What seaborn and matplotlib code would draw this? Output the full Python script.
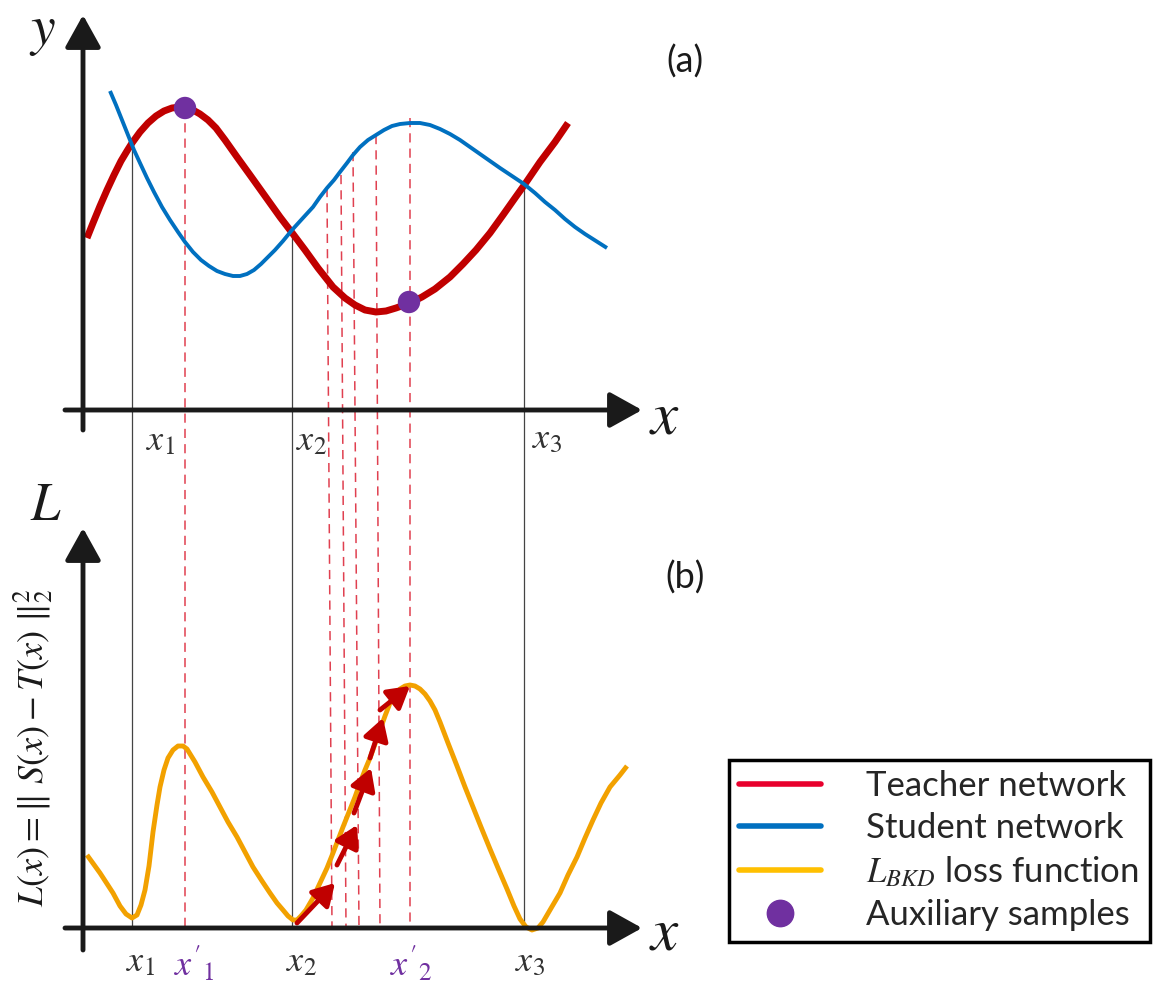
import matplotlib.pyplot as plt
from matplotlib.lines import Line2D
import seaborn as sns

# Schematic curves, points (pixel grid, y grows downwards)
teacher_x = [87, 93, 100, 107, 114, 121, 127, 132, 140, 148, 156, 164, 172, 180, 186, 193, 200, 208,
             216, 225, 237, 250, 265, 280, 293, 305, 318, 333, 345, 355, 365, 376, 386, 396, 410, 422,
             435, 450, 463, 476, 490, 503, 515, 525, 540, 555, 568]
teacher_y = [238, 223, 206, 190, 175, 161, 151, 143, 132, 123, 116, 111, 108, 107, 108, 110, 114, 120,
             128, 140, 157, 175, 196, 217, 234, 250, 268, 287, 298, 305, 310, 312, 311, 308, 303, 297,
             289, 277, 264, 250, 233, 215, 198, 184, 162, 142, 123]

student_x = [110, 116, 122, 128, 134, 140, 147, 154, 162, 170, 178, 185, 193, 201, 209, 217, 225, 233,
             240, 247, 254, 261, 268, 275, 283, 292, 302, 313, 320, 327, 334, 340, 347, 353, 360, 368,
             376, 384, 392, 400, 410, 420, 430, 440, 450, 460, 470, 480, 490, 500, 512, 524, 535, 545,
             555, 565, 575, 585, 596, 607]
student_y = [91, 105, 120, 135, 150, 163, 178, 192, 207, 220, 232, 242, 252, 260, 266, 271, 274, 276,
             276, 274, 270, 264, 257, 250, 241, 230, 219, 207, 197, 188, 180, 172, 163, 155, 147, 140,
             135, 130, 126, 124, 123, 123, 125, 129, 134, 140, 147, 154, 161, 168, 176, 184, 193, 202,
             210, 219, 227, 234, 241, 248]

loss_x = [87, 100, 113, 120, 126, 132, 137, 141, 145, 149, 153, 157, 160, 164, 168, 173, 178, 183, 187,
          195, 203, 212, 220, 228, 237, 245, 253, 262, 270, 277, 283, 288, 293, 297, 301, 306, 313, 320,
          327, 333, 338, 343, 349, 355, 360, 365, 370, 375, 380, 385, 390, 395, 400, 405, 410, 415, 420,
          425, 430, 435, 440, 448, 457, 465, 473, 481, 490, 498, 507, 514, 520, 526, 532, 538, 543, 550,
          560, 568, 577, 585, 593, 601, 610, 620, 627]
loss_y = [855, 873, 893, 906, 914, 918, 915, 905, 890, 866, 832, 805, 787, 770, 758, 750, 746, 746, 749,
          762, 777, 792, 807, 822, 837, 852, 867, 881, 893, 903, 910, 916, 920, 920, 916, 910, 898, 883,
          868, 853, 840, 827, 812, 797, 783, 770, 758, 744, 730, 716, 703, 695, 689, 686, 685, 686, 689,
          694, 701, 710, 722, 743, 766, 787, 807, 827, 849, 868, 889, 906, 919, 927, 930, 928, 922, 910,
          893, 875, 857, 838, 820, 803, 787, 775, 766]

aux_x = [185, 409]
aux_y = [108, 302]

# crossing points (black) and sample points (red dashed)
cross_x = [132, 292, 524]
cross_top = [145, 232, 184]
dash_x_top = [185, 327, 341, 353, 376, 410]
dash_x_bot = [185, 332, 346, 359, 380, 410]
dash_top = [108, 188, 175, 152, 135, 118]

# gradient steps along the loss curve
step_start = [(297, 923), (337, 865), (354, 813), (370, 758), (380, 710)]
step_end = [(335, 883), (357, 825), (371, 768), (383, 718), (410, 686)]

top_ticks = [r'$x_1$', r'$x_2$', r'$x_3$']
top_tick_pos = [(160, 440), (311, 440), (547, 438)]
bot_ticks = [r'$x_1$', r"$x'_1$", r'$x_2$', r"$x'_2$", r'$x_3$']
bot_tick_pos = [(140, 962), (194, 963), (301, 962), (411, 963), (530, 962)]
bot_tick_col = ['#333333', '#7030A0', '#333333', '#7030A0', '#333333']

RED = '#C00000'
BLUE = '#0070C0'
ORANGE = '#F2A100'
PURPLE = '#7030A0'
AX = '#1a1a1a'

sns.set_theme(style='white')
plt.rcParams['font.family'] = ['Lato', 'DejaVu Sans']
plt.rcParams['mathtext.fontset'] = 'stix'

fig = plt.figure(figsize=(11.66, 9.86), dpi=100)
ax = fig.add_axes([0, 0, 1, 1])
ax.set_xlim(0, 1166)
ax.set_ylim(986, 0)
ax.axis('off')

# guide lines
for x, top in zip(cross_x, cross_top):
    ax.plot([x, x], [top, 928], color='#444444', lw=0.9, zorder=1)
for xt, xb, top in zip(dash_x_top, dash_x_bot, dash_top):
    ax.plot([xt, xb], [top, 928], color='#E04050', lw=1.1, ls=(0, (6, 4)), zorder=1)

# axes with arrows
arrow = dict(arrowstyle='-|>,head_length=0.9,head_width=0.5', color=AX, lw=3.5,
             mutation_scale=22, shrinkA=0, shrinkB=0)
ax.annotate('', xy=(83, 15), xytext=(83, 430), arrowprops=arrow, zorder=5)
ax.annotate('', xy=(642, 410), xytext=(65, 410), arrowprops=arrow, zorder=5)
ax.annotate('', xy=(83, 528), xytext=(83, 950), arrowprops=arrow, zorder=5)
ax.annotate('', xy=(642, 928), xytext=(65, 928), arrowprops=arrow, zorder=5)

# curves
line_kw = dict(estimator=None, sort=False, solid_joinstyle='round', solid_capstyle='butt')
sns.lineplot(x=teacher_x, y=teacher_y, ax=ax, color=RED, lw=5, zorder=3, **line_kw)
sns.lineplot(x=student_x, y=student_y, ax=ax, color=BLUE, lw=2.8, zorder=3, **line_kw)
sns.lineplot(x=loss_x, y=loss_y, ax=ax, color=ORANGE, lw=3.5, zorder=3, **line_kw)
sns.scatterplot(x=aux_x, y=aux_y, ax=ax, color=PURPLE, s=260, edgecolor='none', zorder=4)

step = dict(arrowstyle='-|>,head_length=0.65,head_width=0.38', color=RED, lw=3.5,
            mutation_scale=20, shrinkA=0, shrinkB=0)
for s, e in zip(step_start, step_end):
    ax.annotate('', xy=e, xytext=s, arrowprops=step, zorder=4)

# labels
ax.text(42, 32, r'$y$', fontsize=40, ha='center', va='center', color=AX)
ax.text(664, 416, r'$x$', fontsize=44, ha='center', va='center', color=AX)
ax.text(46, 506, r'$L$', fontsize=38, ha='center', va='center', color=AX)
ax.text(664, 932, r'$x$', fontsize=44, ha='center', va='center', color=AX)
ax.text(685, 62, '(a)', fontsize=26, ha='center', va='center', color=AX)
ax.text(685, 578, '(b)', fontsize=26, ha='center', va='center', color=AX)
ax.text(33, 748, r'$L(x)=\Vert\ S(x)-T(x)\ \Vert_2^2$', fontsize=26, rotation=90,
        ha='center', va='center', color=AX)

for lab, (x, y) in zip(top_ticks, top_tick_pos):
    ax.text(x, y, lab, fontsize=26, ha='center', va='center', color='#333333')
for lab, (x, y), c in zip(bot_ticks, bot_tick_pos, bot_tick_col):
    ax.text(x, y, lab, fontsize=26, ha='center', va='center', color=c)

handles = [
    Line2D([], [], color='#E8002D', lw=4, label='Teacher network'),
    Line2D([], [], color=BLUE, lw=4, label='Student network'),
    Line2D([], [], color='#FFC000', lw=4, label=r'$L_{BKD}$ loss function'),
    Line2D([], [], color=PURPLE, marker='o', ls='none', markersize=19, label='Auxiliary samples'),
]
leg = ax.legend(handles=handles, loc='upper left', bbox_to_anchor=(729 / 1166, 1 - 760 / 986),
                bbox_transform=fig.transFigure, borderaxespad=0, frameon=True, fancybox=False,
                edgecolor='black', fontsize=25, handlelength=2.36, handletextpad=1.3,
                labelspacing=0.29, borderpad=0.3, framealpha=1)
leg.get_frame().set_linewidth(2.5)

fig.savefig('out.png', dpi=100)
